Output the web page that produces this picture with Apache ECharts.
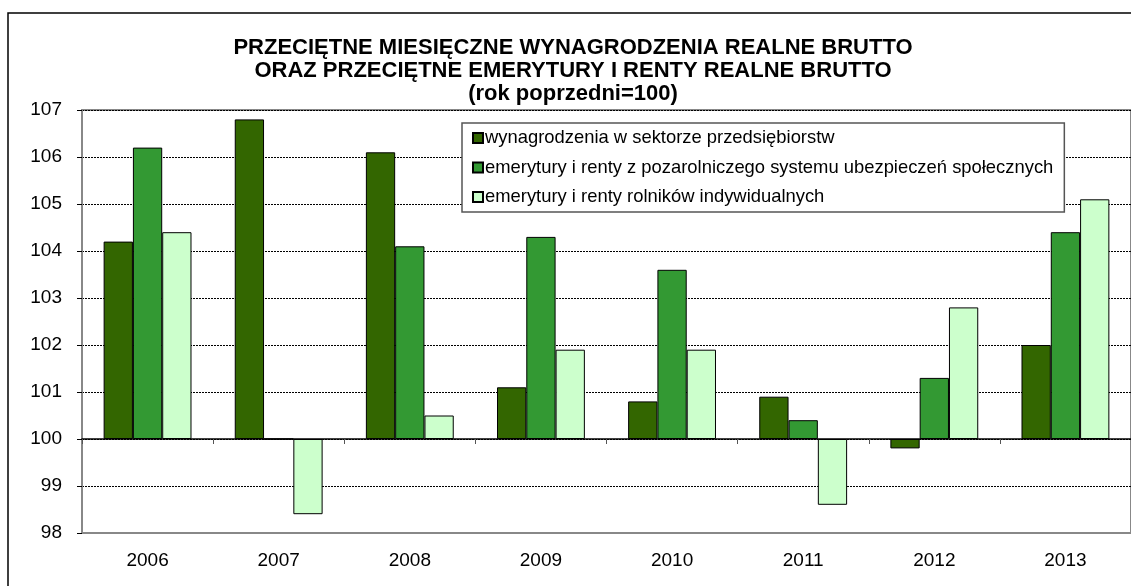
<!DOCTYPE html>
<html>
<head>
<meta charset="utf-8">
<script src="https://cdn.jsdelivr.net/npm/echarts@6/dist/echarts.min.js"></script>
<style>
  html, body { margin: 0; padding: 0; background: #fff; }
  #chart { width: 1131px; height: 586px; }
</style>
</head>
<body>
<div id="chart"></div>
<script>
// values (previous year = 100)
const years = ['2006', '2007', '2008', '2009', '2010', '2011', '2012', '2013'];
const wages = [104.2, 106.8, 106.1, 101.1, 100.8, 100.9, 99.8, 102.0];
const pensionsNonAgri = [106.2, 100.0, 104.1, 104.3, 103.6, 100.4, 101.3, 104.4];
const pensionsFarmers = [104.4, 98.4, 100.5, 101.9, 101.9, 98.6, 102.8, 105.1];
const seriesNames = [
  'wynagrodzenia w sektorze przedsiębiorstw',
  'emerytury i renty z pozarolniczego systemu ubezpieczeń społecznych',
  'emerytury i renty rolników indywidualnych'
];
const colors = ['#336600', '#339933', '#ccffcc'];
const BASE = 100; // bars grow from 100

const font = 'Liberation Sans, Arial, sans-serif';
const chart = echarts.init(document.getElementById('chart'));

function barSeries(name, values, color) {
  return {
    name: name,
    type: 'bar',
    xAxisIndex: 0,
    barGap: '0%',
    barCategoryGap: '33%',
    itemStyle: { color: color, borderColor: '#000', borderWidth: 1 },
    data: values.map(v => +(v - BASE).toFixed(2))
  };
}

chart.setOption({
  animation: false,
  title: {
    text: 'PRZECIĘTNE MIESIĘCZNE WYNAGRODZENIA REALNE BRUTTO\nORAZ PRZECIĘTNE EMERYTURY I RENTY REALNE BRUTTO\n(rok poprzedni=100)',
    left: 568,
    top: 31,
    textAlign: 'center',
    textStyle: { fontFamily: font, fontSize: 22, fontWeight: 'bold', color: '#000', lineHeight: 23 }
  },
  legend: {
    orient: 'vertical',
    left: 462,
    top: 123,
    padding: [5, 11, 5, 10],
    itemGap: 9.5,
    itemWidth: 10,
    itemHeight: 10,
    icon: 'rect',
    backgroundColor: '#fff',
    borderColor: '#555',
    borderWidth: 1.5,
    borderRadius: 0,
    textStyle: { fontFamily: font, fontSize: 18.4, lineHeight: 20, color: '#000', padding: [0, 0, 0, -3] },
    data: seriesNames
  },
  graphic: [{
    type: 'rect',
    shape: { x: 8, y: 13, width: 1200, height: 700 },
    style: { fill: 'none', stroke: '#000', lineWidth: 1.5 },
    silent: true,
    z: -1
  }],
  grid: {
    left: 82,
    top: 110,
    width: 1053,
    bottom: 53,
    show: true,
    borderColor: '#888',
    borderWidth: 2,
    backgroundColor: 'transparent'
  },
  xAxis: [{
    type: 'category',
    data: years,
    position: 'bottom',
    axisLine: { onZero: false, lineStyle: { color: '#888', width: 2 } },
    axisTick: { show: false },
    axisLabel: { fontFamily: font, fontSize: 19, color: '#000', margin: 18 }
  }, {
    type: 'category',
    data: years,
    position: 'bottom',
    axisLine: { onZero: true, lineStyle: { color: '#000', width: 1.5 } },
    axisTick: { show: true, inside: false, length: 5, lineStyle: { color: '#555' } },
    axisLabel: { show: false }
  }],
  yAxis: {
    type: 'value',
    min: -2,
    max: 7,
    interval: 1,
    axisLine: { show: true, lineStyle: { color: '#888', width: 2 } },
    axisTick: { show: true, length: 5, lineStyle: { color: '#000' } },
    axisLabel: {
      fontFamily: font, fontSize: 19, color: '#000', margin: 20,
      formatter: v => String(v + BASE)
    },
    splitLine: { lineStyle: { color: '#000', type: [2, 1], width: 1 } }
  },
  series: [
    barSeries(seriesNames[0], wages, colors[0]),
    barSeries(seriesNames[1], pensionsNonAgri, colors[1]),
    barSeries(seriesNames[2], pensionsFarmers, colors[2])
  ]
});
</script>
</body>
</html>
